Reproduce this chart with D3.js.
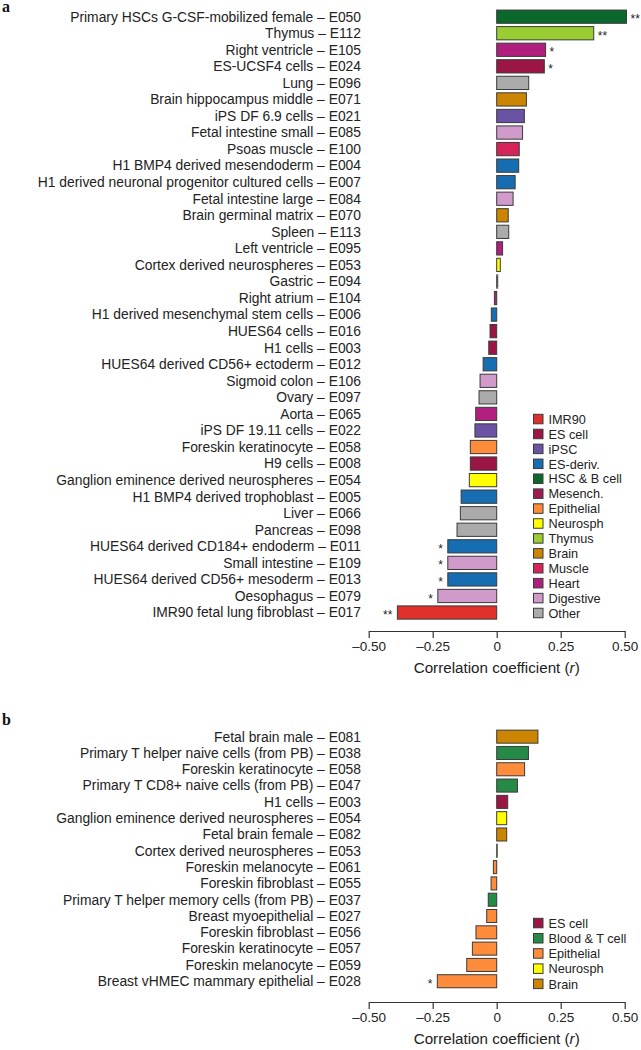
<!DOCTYPE html>
<html>
<head>
<meta charset="utf-8">
<script src="https://cdn.jsdelivr.net/npm/d3@7"></script>
<style>
  body { margin: 0; background: #fff; }
  svg { display: block; font-family: "Liberation Sans", Arial, sans-serif; }
</style>
</head>
<body>
<svg id="chart" width="641" height="1050"></svg>
<script>
// panel a
const labelsA = [
  "Primary HSCs G-CSF-mobilized female – E050", "Thymus – E112", "Right ventricle – E105",
  "ES-UCSF4 cells – E024", "Lung – E096", "Brain hippocampus middle – E071", "iPS DF 6.9 cells – E021",
  "Fetal intestine small – E085", "Psoas muscle – E100", "H1 BMP4 derived mesendoderm – E004",
  "H1 derived neuronal progenitor cultured cells – E007", "Fetal intestine large – E084",
  "Brain germinal matrix – E070", "Spleen – E113", "Left ventricle – E095",
  "Cortex derived neurospheres – E053", "Gastric – E094", "Right atrium – E104",
  "H1 derived mesenchymal stem cells – E006", "HUES64 cells – E016", "H1 cells – E003",
  "HUES64 derived CD56+ ectoderm – E012", "Sigmoid colon – E106", "Ovary – E097", "Aorta – E065",
  "iPS DF 19.11 cells – E022", "Foreskin keratinocyte – E058", "H9 cells – E008",
  "Ganglion eminence derived neurospheres – E054", "H1 BMP4 derived trophoblast – E005",
  "Liver – E066", "Pancreas – E098", "HUES64 derived CD184+ endoderm – E011",
  "Small intestine – E109", "HUES64 derived CD56+ mesoderm – E013", "Oesophagus – E079",
  "IMR90 fetal lung fibroblast – E017"
];
const valuesA = [
  0.507, 0.379, 0.191, 0.186, 0.125, 0.116, 0.108, 0.101, 0.088, 0.086, 0.072, 0.064,
  0.045, 0.047, 0.023, 0.014, 0.004, -0.009, -0.021, -0.026, -0.031, -0.053, -0.065,
  -0.069, -0.082, -0.085, -0.103, -0.103, -0.107, -0.139, -0.142, -0.155, -0.191,
  -0.191, -0.191, -0.230, -0.388
];
const groupsA = [
  "HSC & B cell", "Thymus", "Heart", "ES cell", "Other", "Brain", "iPSC", "Digestive", "Muscle",
  "ES-deriv.", "ES-deriv.", "Digestive", "Brain", "Other", "Heart", "Neurosph", "Digestive",
  "Heart", "ES-deriv.", "ES cell", "ES cell", "ES-deriv.", "Digestive", "Other", "Heart",
  "iPSC", "Epithelial", "ES cell", "Neurosph", "ES-deriv.", "Other", "Other", "ES-deriv.",
  "Digestive", "ES-deriv.", "Digestive", "IMR90"
];
const starsA = [
  "**", "**", "*", "*", "", "", "", "", "", "", "", "", "", "", "", "", "", "", "", "", "",
  "", "", "", "", "", "", "", "", "", "", "", "*", "*", "*", "*", "**"
];
const legendA = [
  "IMR90", "ES cell", "iPSC", "ES-deriv.", "HSC & B cell", "Mesench.", "Epithelial",
  "Neurosph", "Thymus", "Brain", "Muscle", "Heart", "Digestive", "Other"
];

// panel b
const labelsB = [
  "Fetal brain male – E081", "Primary T helper naive cells (from PB) – E038",
  "Foreskin keratinocyte – E058", "Primary T CD8+ naive cells (from PB) – E047",
  "H1 cells – E003", "Ganglion eminence derived neurospheres – E054",
  "Fetal brain female – E082", "Cortex derived neurospheres – E053",
  "Foreskin melanocyte – E061", "Foreskin fibroblast – E055",
  "Primary T helper memory cells (from PB) – E037", "Breast myoepithelial – E027",
  "Foreskin fibroblast – E056", "Foreskin keratinocyte – E057",
  "Foreskin melanocyte – E059", "Breast vHMEC mammary epithelial – E028"
];
const valuesB = [
  0.161, 0.124, 0.109, 0.081, 0.043, 0.039, 0.039, 0.002, -0.013, -0.022, -0.033,
  -0.039, -0.081, -0.095, -0.117, -0.232
];
const groupsB = [
  "Brain", "Blood & T cell", "Epithelial", "Blood & T cell", "ES cell", "Neurosph", "Brain",
  "Neurosph", "Epithelial", "Epithelial", "Blood & T cell", "Epithelial", "Epithelial",
  "Epithelial", "Epithelial", "Epithelial"
];
const starsB = ["", "", "", "", "", "", "", "", "", "", "", "", "", "", "", "*"];
const legendB = ["ES cell", "Blood & T cell", "Epithelial", "Neurosph", "Brain"];

const tickValues = [-0.5, -0.25, 0, 0.25, 0.5];
const tickLabels = ["–0.50", "–0.25", "0", "0.25", "0.50"];

const colour = d3.scaleOrdinal()
  .domain(["IMR90", "ES cell", "iPSC", "ES-deriv.", "HSC & B cell", "Mesench.", "Epithelial",
    "Neurosph", "Thymus", "Brain", "Muscle", "Heart", "Digestive", "Other", "Blood & T cell"])
  .range(["#e0302b", "#9b1545", "#6a52a5", "#176db2", "#0b682d", "#9c1c55", "#ff8c3b",
    "#ffff00", "#9acd32", "#cc8500", "#d6245a", "#b01f7e", "#d09acb", "#ababab", "#268a47"]);

const svg = d3.select("#chart");
const x = d3.scaleLinear().domain([-0.5, 0.5]).range([368.7, 624.7]);

function drawPanel(p) {
  const rows = p.labels.map((l, i) => ({ label: l, value: p.values[i], group: p.groups[i], star: p.stars[i] }));
  const y = d3.scaleBand().domain(p.labels).range([p.top, p.bottom]).paddingInner(0.2).paddingOuter(0.1);
  const g = svg.append("g");

  g.selectAll("text.cat").data(rows).enter().append("text")
    .attr("class", "cat")
    .attr("x", 361)
    .attr("y", d => y(d.label) + y.bandwidth() / 2)
    .attr("dy", "0.35em")
    .attr("text-anchor", "end")
    .attr("font-size", 13.85)
    .attr("fill", "#222")
    .text(d => d.label);

  g.selectAll("rect.bar").data(rows).enter().append("rect")
    .attr("class", "bar")
    .attr("x", d => x(Math.min(0, d.value)))
    .attr("y", d => y(d.label))
    .attr("width", d => Math.abs(x(d.value) - x(0)))
    .attr("height", y.bandwidth())
    .attr("fill", d => colour(d.group))
    .attr("stroke", "#3a3a3a")
    .attr("stroke-width", 1);

  g.selectAll("text.star").data(rows.filter(d => d.star)).enter().append("text")
    .attr("class", "star")
    .attr("x", d => d.value > 0 ? x(d.value) + 4 : x(d.value) - 5)
    .attr("y", d => y(d.label) + y.bandwidth() / 2)
    .attr("dy", "0.55em")
    .attr("text-anchor", d => d.value > 0 ? "start" : "end")
    .attr("font-size", 12)
    .attr("fill", "#222")
    .text(d => d.star);

  const axis = g.append("g")
    .attr("transform", "translate(0," + p.axisY + ")")
    .call(d3.axisBottom(x).tickValues(tickValues).tickFormat((d, i) => tickLabels[i])
      .tickSize(7).tickSizeOuter(0));
  axis.select(".domain").attr("stroke", "#333").attr("stroke-width", 1.2);
  axis.selectAll(".tick line").attr("stroke", "#333").attr("stroke-width", 1.2);
  axis.selectAll(".tick text").attr("font-size", 13.5).attr("fill", "#222")
    .attr("font-family", "'Liberation Sans', Arial, sans-serif");

  const title = g.append("text")
    .attr("x", x(0))
    .attr("y", p.axisY + 42)
    .attr("text-anchor", "middle")
    .attr("font-size", 15.2)
    .attr("fill", "#222");
  title.append("tspan").text("Correlation coefficient (");
  title.append("tspan").attr("font-style", "italic").text("r");
  title.append("tspan").text(")");

  const leg = g.selectAll("g.legend").data(p.legend).enter().append("g")
    .attr("class", "legend")
    .attr("transform", (d, i) => "translate(533.5," + (p.legendY + i * p.legendStep) + ")");
  leg.append("rect")
    .attr("x", 0).attr("y", -5).attr("width", 9.5).attr("height", 9.5)
    .attr("fill", d => colour(d))
    .attr("stroke", "#3a3a3a").attr("stroke-width", 1);
  leg.append("text")
    .attr("x", 15).attr("y", 0).attr("dy", "0.35em")
    .attr("font-size", 12.7).attr("fill", "#222")
    .text(d => d);

  svg.append("text")
    .attr("x", 2).attr("y", p.letterY)
    .attr("font-family", "'Liberation Serif', 'Times New Roman', serif")
    .attr("font-weight", "bold").attr("font-size", 16)
    .attr("fill", "#111")
    .text(p.letter);
}

drawPanel({
  labels: labelsA, values: valuesA, groups: groupsA, stars: starsA, legend: legendA,
  top: 8.4, bottom: 620.8, axisY: 631, legendY: 419.3, legendStep: 14.92, letter: "a", letterY: 12
});
drawPanel({
  labels: labelsB, values: valuesB, groups: groupsB, stars: starsB, legend: legendB,
  top: 728.5, bottom: 989.4, axisY: 1002, legendY: 923.3, legendStep: 15.2, letter: "b", letterY: 725
});
</script>
</body>
</html>
